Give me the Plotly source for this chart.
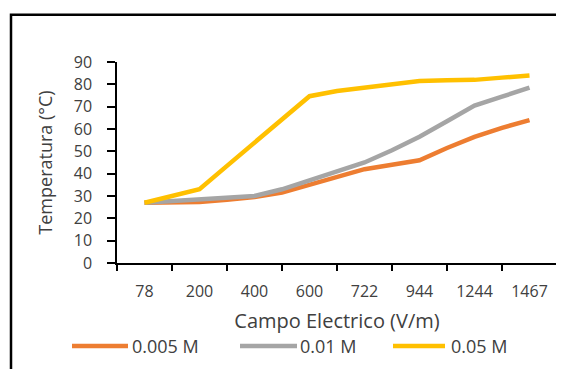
import plotly.graph_objects as go

# Category labels (Campo Electrico, V/m)
categories = ["78", "200", "400", "600", "722", "944", "1244", "1467"]
# Measurement positions in category units (points sit at and between category centres)
positions = [0, 0.5, 1, 1.5, 2, 2.5, 3, 3.5, 4, 4.5, 5, 5.5, 6, 6.5, 7]

temp_0005 = [27, 27.1, 27.3, 28.3, 29.5, 31.5, 35, 38.5, 42, 44, 46, 51.5, 56.5, 60.5, 64]
temp_001 = [27, 27.8, 28.5, 29.3, 30, 33, 37, 41, 45, 50.5, 56.5, 63.5, 70.5, 74.5, 78.5]
temp_005 = [27, 30, 33, 43.5, 54, 64.5, 74.7, 77, 78.5, 80, 81.5, 81.8, 82, 83, 84]

series_names = ["0.005 M", "0.01 M", "0.05 M"]
series_values = [temp_0005, temp_001, temp_005]
series_colors = ["#ED7D31", "#A5A5A5", "#FFC000"]

FONT = "Open Sans"
TXT = "#404040"

# the page body adds an 8px margin; work in screenshot pixels and convert
OFF = 8
W, H = 564 - OFF, 369 - OFF
PL, PR, PT, PB = 117, 557, 62, 263  # plot area in screenshot pixels
L, R, T, B = PL - OFF, W - (PR - OFF), PT - OFF, H - (PB - OFF)
PW, PH = PR - PL, PB - PT


def px_x(x):
    return (x - PL) / PW


def px_y(y):
    return (PB - y) / PH


fig = go.Figure()
for name, vals, col in zip(series_names, series_values, series_colors):
    fig.add_trace(go.Scatter(
        x=positions, y=vals, name=name, mode="lines",
        line=dict(color=col, width=4.5), xaxis="x", yaxis="y", showlegend=False,
    ))
# dummy trace so xaxis2 is rendered
fig.add_trace(go.Scatter(x=[None], y=[None], xaxis="x2", yaxis="y",
                         showlegend=False, hoverinfo="skip"))

n = len(categories)
fig.update_layout(
    width=W, height=H,
    margin=dict(l=L, r=R, t=T, b=B, autoexpand=False),
    paper_bgcolor="white", plot_bgcolor="white",
    font=dict(family=FONT, color=TXT, size=16),
    showlegend=False,
    xaxis=dict(range=[-0.5, n - 0.5], tickmode="array",
               tickvals=[i - 0.5 for i in range(n + 1)],
               showticklabels=False, ticks="outside", ticklen=6, tickwidth=1.5,
               tickcolor="black", showline=True, linecolor="black", linewidth=1.5,
               showgrid=False, zeroline=False, automargin=False),
    xaxis2=dict(range=[-0.5, n - 0.5], overlaying="x", anchor="y", side="bottom",
                tickmode="array", tickvals=list(range(n)), ticktext=categories,
                ticks="", showline=False, showgrid=False, zeroline=False,
                ticklabelstandoff=17, tickfont=dict(size=16, color=TXT),
                automargin=False,
                title=dict(text="Campo Electrico (V/m)", font=dict(size=20, color=TXT),
                           standoff=12)),
    yaxis=dict(range=[0, 90], tickmode="array", tickvals=list(range(0, 91, 10)),
               ticks="outside", ticklen=8, tickwidth=1.5, tickcolor="black",
               showline=True, linecolor="black", linewidth=1.5, showgrid=False,
               zeroline=False, ticklabelstandoff=12, tickfont=dict(size=16, color=TXT),
               automargin=False,
               title=dict(text="Temperatura (°C)", font=dict(size=18, color=TXT),
                          standoff=16)),
)

# outer frame
fig.add_shape(type="rect", xref="paper", yref="paper",
              x0=px_x(11), x1=px_x(590), y0=px_y(395), y1=px_y(14.7),
              line=dict(color="black", width=2.5), layer="below")

# legend (keys + labels)
legend_y = px_y(346)
key_spans = [(72, 128), (240, 297), (393, 445)]
text_x = [132, 300, 451]
for name, col, (a, b), tx in zip(series_names, series_colors, key_spans, text_x):
    fig.add_shape(type="line", xref="paper", yref="paper",
                  x0=px_x(a), x1=px_x(b), y0=legend_y, y1=legend_y,
                  line=dict(color=col, width=4.5))
    fig.add_annotation(xref="paper", yref="paper", x=px_x(tx), y=legend_y,
                       text=name, showarrow=False, xanchor="left", yanchor="middle",
                       font=dict(size=18, color=TXT), xshift=-2)

fig.write_html("out.html")
